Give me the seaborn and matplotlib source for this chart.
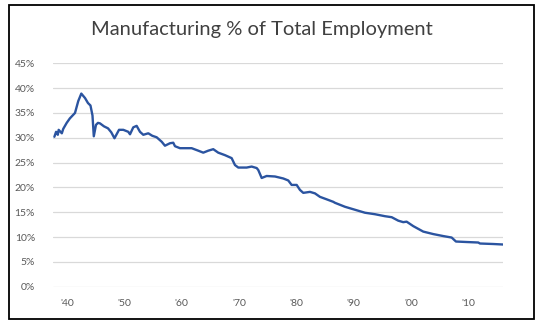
import matplotlib
matplotlib.use("Agg")
import matplotlib.pyplot as plt
from matplotlib.patches import Rectangle
import seaborn as sns
import pandas as pd

# Data
years = [1937.8, 1938.1, 1938.4, 1938.55, 1939.1, 1939.35, 1939.95, 1940.5, 1941.4, 1941.97,
         1942.5, 1943.15, 1943.66, 1944.1, 1944.45, 1944.68, 1945.06, 1945.41, 1945.76, 1946.46,
         1947.16, 1947.73, 1948.29, 1949.08, 1949.83, 1950.7, 1951.0, 1951.57, 1952.16, 1952.74,
         1953.32, 1954.19, 1954.89, 1955.65, 1956.53, 1957.1, 1957.98, 1958.55, 1958.85, 1959.72,
         1960.89, 1961.76, 1962.91, 1963.79, 1964.66, 1965.53, 1966.4, 1967.57, 1968.74, 1969.32,
         1969.9, 1971.36, 1972.23, 1973.11, 1973.39, 1973.98, 1974.85, 1976.3, 1977.75, 1978.62,
         1979.21, 1980.09, 1980.66, 1981.24, 1982.41, 1983.28, 1984.15, 1985.32, 1986.47, 1986.77,
         1988.52, 1990.26, 1992.01, 1993.75, 1995.5, 1996.67, 1997.82, 1998.69, 1999.28, 2000.44,
         2002.18, 2003.93, 2005.67, 2007.14, 2007.89, 2009.76, 2011.78, 2012.08, 2014.4, 2016.09]
share = [30.2, 31.2, 30.6, 31.6, 30.9, 31.8, 33.0, 33.9, 35.0, 37.4,
         38.9, 38.0, 37.0, 36.5, 34.5, 30.3, 32.6, 33.0, 32.9, 32.3,
         31.9, 31.1, 29.9, 31.6, 31.6, 31.2, 30.7, 32.1, 32.4, 31.2,
         30.6, 30.9, 30.4, 30.1, 29.2, 28.4, 28.9, 29.0, 28.3, 27.9,
         27.9, 27.9, 27.4, 27.0, 27.4, 27.7, 27.0, 26.5, 25.9, 24.5,
         24.0, 24.0, 24.2, 23.9, 23.5, 21.9, 22.3, 22.2, 21.8, 21.4,
         20.5, 20.5, 19.5, 18.9, 19.1, 18.8, 18.1, 17.6, 17.1, 16.9,
         16.1, 15.5, 14.9, 14.6, 14.2, 14.0, 13.3, 13.0, 13.1, 12.2,
         11.1, 10.6, 10.2, 9.9, 9.1, 9.0, 8.9, 8.7, 8.6, 8.5]

x_ticks = [1940, 1950, 1960, 1970, 1980, 1990, 2000, 2010]
x_labels = ["'40", "'50", "'60", "'70", "'80", "'90", "'00", "'10"]
y_ticks = [0, 5, 10, 15, 20, 25, 30, 35, 40, 45]
y_labels = ["0%", "5%", "10%", "15%", "20%", "25%", "30%", "35%", "40%", "45%"]
title = "Manufacturing % of Total Employment"

df = pd.DataFrame({"year": years, "share": share})

sns.set_style("white")
plt.rcParams["font.family"] = ["Lato", "DejaVu Sans"]

W, H = 544, 327
fig = plt.figure(figsize=(W / 100, H / 100), dpi=100)
ax = fig.add_axes([53 / W, 1 - 286.7 / H, 450 / W, 223.4 / H])

sns.lineplot(data=df, x="year", y="share", ax=ax, color="#2B54A0",
             linewidth=1.7, zorder=3)

ax.set_xlim(1937.56, 2016.1)
ax.set_ylim(0, 45)
ax.set_yticks(y_ticks)
ax.set_yticklabels(y_labels)
ax.set_xticks(x_ticks)
ax.set_xticklabels(x_labels)
ax.tick_params(axis="both", length=0, colors="#595959", labelsize=7.5)
ax.tick_params(axis="y", pad=13)
ax.tick_params(axis="x", pad=9)
ax.set_xlabel("")
ax.set_ylabel("")
ax.grid(axis="y", color="#D9D9D9", linewidth=0.9)
ax.grid(axis="x", visible=False)
for s in ax.spines.values():
    s.set_visible(False)

fig.text(262 / W, 1 - 29 / H, title, ha="center", va="center",
         fontsize=14.5, color="#404040")

fig.patches.append(Rectangle((9 / W, 1 - 319 / H), 525 / W, 314 / H,
                             transform=fig.transFigure, fill=False,
                             edgecolor="black", linewidth=1.3))

fig.savefig("out.png", dpi=100)
